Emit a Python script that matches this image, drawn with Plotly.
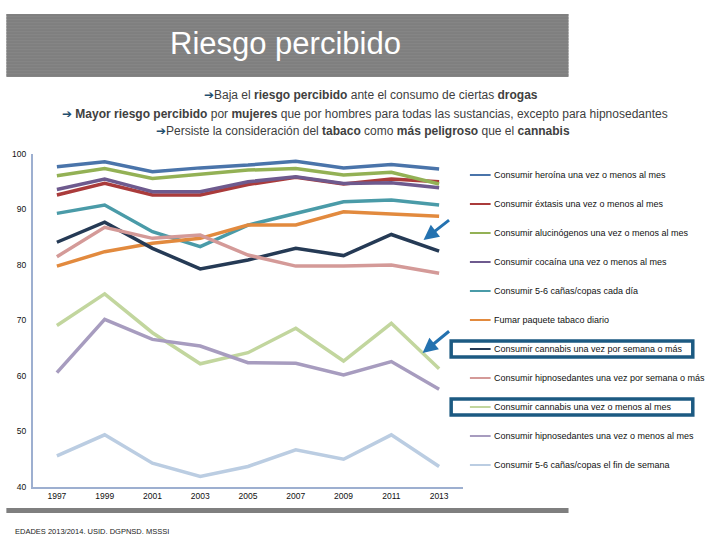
import plotly.graph_objects as go

years = ["1997", "1999", "2001", "2003", "2005", "2007", "2009", "2011", "2013"]

names = [
    "Consumir heroína una vez o menos al mes",
    "Consumir éxtasis una vez o menos al mes",
    "Consumir alucinógenos una vez o menos al mes",
    "Consumir cocaína una vez o menos al mes",
    "Consumir 5-6 cañas/copas cada día",
    "Fumar paquete tabaco diario",
    "Consumir cannabis una vez por semana o más",
    "Consumir hipnosedantes una vez por semana o más",
    "Consumir cannabis una vez o menos al mes",
    "Consumir hipnosedantes una vez o menos al mes",
    "Consumir 5-6 cañas/copas el fin de semana",
]

heroina = [97.7, 98.6, 96.8, 97.5, 98.0, 98.7, 97.5, 98.1, 97.3]
extasis = [92.6, 94.7, 92.6, 92.6, 94.5, 95.8, 94.6, 95.5, 95.0]
alucinogenos = [96.1, 97.4, 95.6, 96.4, 97.1, 97.4, 96.2, 96.7, 94.6]
cocaina = [93.6, 95.5, 93.2, 93.2, 95.0, 95.9, 94.7, 94.8, 93.9]
canas_dia = [89.3, 90.8, 86.0, 83.3, 87.2, 89.3, 91.4, 91.7, 90.8]
tabaco = [79.8, 82.4, 83.9, 84.8, 87.2, 87.2, 89.6, 89.2, 88.8]
cannabis_semana = [84.1, 87.7, 83.0, 79.3, 80.9, 83.0, 81.7, 85.5, 82.5]
hipno_semana = [81.5, 86.8, 84.8, 85.4, 81.8, 79.8, 79.8, 80.0, 78.5]
cannabis_mes = [69.1, 74.8, 67.8, 62.2, 64.2, 68.6, 62.7, 69.5, 61.3]
hipno_mes = [60.6, 70.2, 66.6, 65.4, 62.4, 62.3, 60.2, 62.6, 57.6]
canas_finde = [45.6, 49.4, 44.3, 41.9, 43.7, 46.7, 45.0, 49.4, 43.7]

series = [heroina, extasis, alucinogenos, cocaina, canas_dia, tabaco,
          cannabis_semana, hipno_semana, cannabis_mes, hipno_mes, canas_finde]

colors = ["#4A74AA", "#AA3B3B", "#93B155", "#6E5A8E", "#4A9BA8", "#E28A3E",
          "#253A55", "#D49A98", "#C2D69E", "#A79CBF", "#BBCDE2"]

y_ticks = [40, 50, 60, 70, 80, 90, 100]

# plot area in pixels
L, R, T, B = 27, 463, 154, 487
W, H = 720, 540


def px(x):
    return (x - L) / (R - L)


def py(y):
    return (B - y) / (B - T)


fig = go.Figure()
for name, vals, col in zip(names, series, colors):
    fig.add_trace(go.Scatter(x=years, y=vals, mode="lines", name=name,
                             line=dict(color=col, width=3.5), showlegend=False))

shapes = []
annotations = []

# title banner
shapes.append(dict(type="rect", xref="paper", yref="paper",
                   x0=px(0), x1=px(570), y0=py(77), y1=py(14),
                   fillcolor="#858585", line=dict(width=0), layer="below"))
for yy in range(15, 77, 3):
    shapes.append(dict(type="line", xref="paper", yref="paper",
                       x0=px(0), x1=px(570), y0=py(yy), y1=py(yy),
                       line=dict(color="#7A7A7A", width=1), layer="below"))
annotations.append(dict(text="Riesgo percibido", xref="paper", yref="paper",
                        x=px(283), y=py(44), showarrow=False,
                        xanchor="center", yanchor="middle",
                        font=dict(family="Liberation Sans, Arial", size=31, color="white")))

arrow = "<span style='color:#1F4E6E'>➔</span>"
sub = [
    (arrow + "Baja el <b>riesgo percibido</b> ante el consumo de ciertas <b>drogas</b>", 370, 95),
    (arrow + " <b>Mayor riesgo percibido</b> por <b>mujeres</b> que por hombres para todas las sustancias, excepto para hipnosedantes", 364, 114),
    (arrow + "Persiste la consideración del <b>tabaco</b> como <b>más peligroso</b> que el <b>cannabis</b>", 362, 131),
]
for t, xx, yy in sub:
    annotations.append(dict(text=t, xref="paper", yref="paper", x=px(xx), y=py(yy),
                            showarrow=False, xanchor="center", yanchor="middle",
                            font=dict(family="Liberation Sans, Arial", size=12, color="#404040")))

# legend (manual)
leg_y = [175, 204, 233, 262, 291, 320, 349, 378, 407, 436, 465]
for name, col, yy in zip(names, colors, leg_y):
    shapes.append(dict(type="line", xref="paper", yref="paper",
                       x0=px(470), x1=px(491), y0=py(yy), y1=py(yy),
                       line=dict(color=col, width=2)))
    annotations.append(dict(text=name, xref="paper", yref="paper", x=px(492), y=py(yy),
                            showarrow=False, xanchor="left", yanchor="middle",
                            font=dict(family="Liberation Sans, Arial", size=9, color="#111111")))

# highlight boxes
for y0, y1 in [(341, 357), (399, 415)]:
    shapes.append(dict(type="rect", xref="paper", yref="paper",
                       x0=px(451), x1=px(696), y0=py(y1), y1=py(y0),
                       line=dict(color="#1C5A82", width=3.5)))

# arrows
for tx, ty, ax, ay in [(423, 240, 27, -21), (422, 353, 28, -23)]:
    annotations.append(dict(text="", xref="paper", yref="paper", x=px(tx), y=py(ty),
                            ax=ax, ay=ay, showarrow=True, arrowhead=2, arrowsize=1,
                            arrowwidth=3, arrowcolor="#2472B0"))

# bottom bar and footer
shapes.append(dict(type="rect", xref="paper", yref="paper",
                   x0=px(0), x1=px(570), y0=py(513), y1=py(508),
                   fillcolor="#7F7F7F", line=dict(width=0)))
annotations.append(dict(text="EDADES 2013/2014. USID. DGPNSD. MSSSI", xref="paper", yref="paper",
                        x=px(7), y=py(531), showarrow=False, xanchor="left", yanchor="middle",
                        font=dict(family="Liberation Sans, Arial", size=7.5, color="#222222")))

fig.update_layout(
    width=W, height=H,
    margin=dict(l=L, r=W - R, t=T, b=H - B, pad=0),
    paper_bgcolor="white", plot_bgcolor="white",
    shapes=shapes, annotations=annotations,
    showlegend=False,
    xaxis=dict(type="category", showgrid=False, zeroline=False,
               showline=True, linecolor="#9DAFD0", linewidth=2,
               ticks="", tickfont=dict(family="Liberation Sans, Arial", size=8.5, color="#111"),
               range=[-0.5, 8.5]),
    yaxis=dict(range=[40, 100], tickvals=y_ticks, showgrid=False, zeroline=False,
               showline=True, linecolor="#9DAFD0", linewidth=2,
               ticks="outside", ticklen=3, tickcolor="white",
               tickfont=dict(family="Liberation Sans, Arial", size=8.5, color="#111")),
)

fig.write_html("out.html", config={"displayModeBar": False},
               post_script="document.body.style.margin='0px';document.body.style.padding='0px';")
